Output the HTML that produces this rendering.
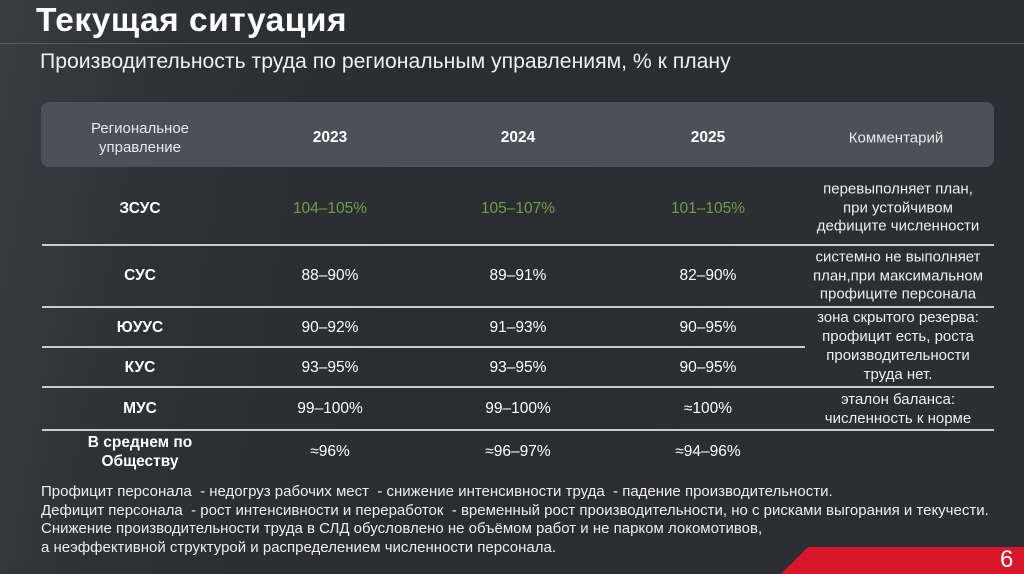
<!DOCTYPE html>
<html><head><meta charset="utf-8"><style>
body{margin:0;width:1024px;height:574px;overflow:hidden;background:#2c2e35;font-family:"Liberation Sans",sans-serif;color:#fff;position:relative}
.a{position:absolute}
.c{position:absolute;transform:translate(-50%,-50%);text-align:center;white-space:nowrap}
.h{font-size:15px;color:#e8e8e8}
.b{font-size:15.5px;font-weight:bold}
.v{font-size:15.5px}
.g{color:#6da043}
.m{font-size:15px;line-height:18.5px;color:#eee}
.ln{position:absolute;height:2px;background:#c9cbd0;left:42px}
</style></head><body>
<div class="a" style="left:0;top:0;width:1024px;height:574px;background:linear-gradient(100deg,#3a3c43 0%,#2e3037 18%,#2b2d34 40%,#2c2e35 100%)"></div>
<div class="a" style="left:36px;top:2px;font-size:33.5px;font-weight:900;letter-spacing:0.5px">Текущая ситуация</div>
<div class="a" style="left:0;top:43px;width:1024px;height:1px;background:#5a5c63"></div>
<div class="a" style="left:40px;top:50px;font-size:21.2px;color:#f0f0f0">Производительность труда по региональным управлениям, % к плану</div>
<div class="a" style="left:41px;top:102px;width:953px;height:65px;background:#4d5058;border-radius:8px"></div>
<div class="c h" style="left:140px;top:138px;line-height:19px">Региональное<br>управление</div>
<div class="c b" style="left:330px;top:138px">2023</div>
<div class="c b" style="left:518px;top:138px">2024</div>
<div class="c b" style="left:708px;top:138px">2025</div>
<div class="c h" style="left:896px;top:138px">Комментарий</div>

<div class="ln" style="top:244px;width:952px"></div>
<div class="ln" style="top:306px;width:952px"></div>
<div class="ln" style="top:346px;width:763px"></div>
<div class="ln" style="top:386px;width:952px"></div>
<div class="ln" style="top:429px;width:952px"></div>

<div class="c b" style="left:140px;top:209px">ЗСУС</div>
<div class="c v g" style="left:330px;top:209px">104–105%</div>
<div class="c v g" style="left:518px;top:209px">105–107%</div>
<div class="c v g" style="left:708px;top:209px">101–105%</div>
<div class="c m g" style="left:898px;top:208px">перевыполняет план,<br>при устойчивом<br>дефиците численности</div>

<div class="c b" style="left:140px;top:276px">СУС</div>
<div class="c v" style="left:330px;top:276px">88–90%</div>
<div class="c v" style="left:518px;top:276px">89–91%</div>
<div class="c v" style="left:708px;top:276px">82–90%</div>
<div class="c m" style="left:898px;top:276px">системно не выполняет<br>план,при максимальном<br>профиците персонала</div>

<div class="c b" style="left:140px;top:328px">ЮУУС</div>
<div class="c v" style="left:330px;top:328px">90–92%</div>
<div class="c v" style="left:518px;top:328px">91–93%</div>
<div class="c v" style="left:708px;top:328px">90–95%</div>
<div class="c m" style="left:898px;top:346px;line-height:19px">зона скрытого резерва:<br>профицит есть, роста<br>производительности<br>труда нет.</div>

<div class="c b" style="left:140px;top:368px">КУС</div>
<div class="c v" style="left:330px;top:368px">93–95%</div>
<div class="c v" style="left:518px;top:368px">93–95%</div>
<div class="c v" style="left:708px;top:368px">90–95%</div>

<div class="c b" style="left:140px;top:409px">МУС</div>
<div class="c v" style="left:330px;top:409px">99–100%</div>
<div class="c v" style="left:518px;top:409px">99–100%</div>
<div class="c v" style="left:708px;top:409px">≈100%</div>
<div class="c m" style="left:898px;top:409px;line-height:19px">эталон баланса:<br>численность к норме</div>

<div class="c b" style="left:140px;top:452px;line-height:19px">В среднем по<br>Обществу</div>
<div class="c v" style="left:330px;top:452px">≈96%</div>
<div class="c v" style="left:518px;top:452px">≈96–97%</div>
<div class="c v" style="left:708px;top:452px">≈94–96%</div>

<div class="a" style="left:41px;top:483px;font-size:15px;line-height:18.7px;color:#eee;white-space:nowrap">Профицит персонала&nbsp; - недогруз рабочих мест&nbsp; - снижение интенсивности труда&nbsp; - падение производительности.<br>Дефицит персонала&nbsp; - рост интенсивности и переработок&nbsp; - временный рост производительности, но с рисками выгорания и текучести.<br>Снижение производительности труда в СЛД обусловлено не объёмом работ и не парком локомотивов,<br>а неэффективной структурой и распределением численности персонала.</div>

<svg class="a" style="left:0;top:0" width="1024" height="574"><polygon points="808,547 1024,547 1024,574 781,574" fill="#d7182a"/></svg>
<div class="a" style="left:1000px;top:546px;font-size:24px">6</div>
</body></html>
